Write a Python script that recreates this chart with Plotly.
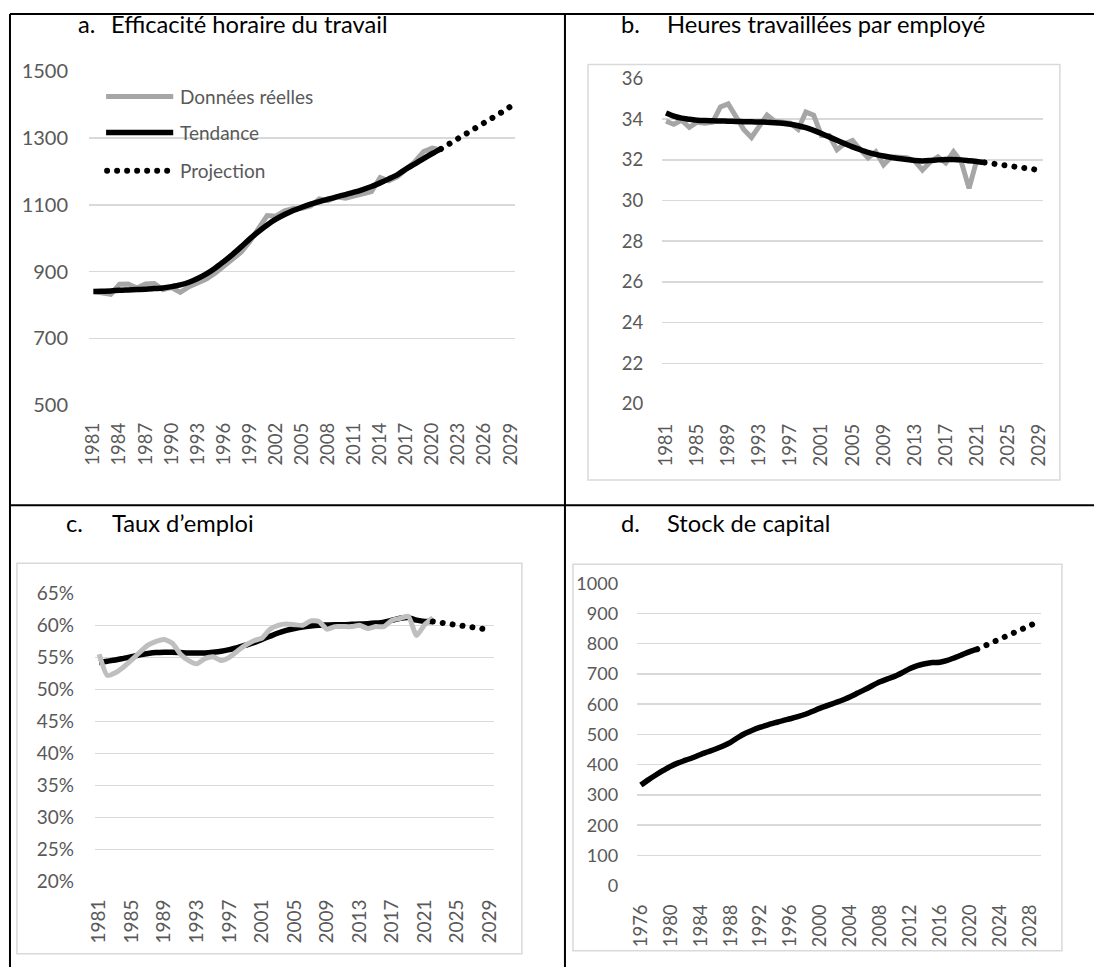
import plotly.graph_objects as go

W, H = 1101, 978
FONT = "Lato"
GRID = "#d9d9d9"
TICKC = "#595959"

# ---------------- data ----------------
years_a = list(range(1981, 2022))
actual_a = [840, 836, 832, 862, 863, 851, 863, 864, 846, 852, 838, 855, 866, 878, 895,
            915, 935, 958, 990, 1030, 1068, 1066, 1082, 1089, 1090, 1097, 1118, 1113,
            1124, 1120, 1127, 1131, 1140, 1182, 1172, 1185, 1208, 1230, 1260, 1270, 1265]
trend_a = [840, 841, 842, 844, 845, 846, 847, 849, 851, 855, 860, 868, 879, 893, 910,
           930, 951, 974, 998, 1020, 1040, 1057, 1071, 1083, 1093, 1102, 1110, 1117,
           1124, 1131, 1138, 1146, 1155, 1166, 1178, 1191, 1208, 1223, 1239, 1254, 1268]
proj_years_a = list(range(2021, 2030))
proj_a = [1268, 1283, 1298, 1313, 1329, 1345, 1361, 1378, 1395]

years_b = list(range(1981, 2022))
actual_b = [33.9, 33.75, 33.95, 33.6, 33.85, 33.8, 33.85, 34.6, 34.75, 34.1, 33.5, 33.1,
            33.6, 34.2, 33.9, 33.85, 33.8, 33.5, 34.35, 34.2, 33.2, 33.2, 32.5, 32.8,
            32.95, 32.5, 32.1, 32.4, 31.75, 32.15, 32.15, 32.1, 31.95, 31.5, 31.9, 32.15,
            31.85, 32.4, 31.9, 30.6, 32.0]
trend_years_b = list(range(1981, 2023))
trend_b = [34.3, 34.15, 34.05, 34.0, 33.95, 33.93, 33.92, 33.91, 33.9, 33.89, 33.88,
           33.87, 33.86, 33.85, 33.83, 33.8, 33.75, 33.68, 33.58, 33.45, 33.3, 33.13,
           32.96, 32.8, 32.64, 32.5, 32.37, 32.27, 32.19, 32.12, 32.07, 32.02, 31.97,
           31.95, 31.97, 32.0, 32.02, 32.02, 32.0, 31.96, 31.92, 31.87]
proj_years_b = list(range(2022, 2030))
proj_b = [31.87, 31.82, 31.77, 31.72, 31.66, 31.6, 31.55, 31.5]

years_c = list(range(1981, 2023))
actual_c = [55.5, 52.2, 52.6, 53.5, 54.6, 55.8, 56.9, 57.5, 57.8, 57.2, 55.5, 54.5, 54.0,
            54.8, 55.1, 54.5, 55.0, 56.0, 56.9, 57.6, 58.0, 59.4, 60.0, 60.2, 60.1, 60.0,
            60.7, 60.6, 59.4, 59.8, 59.8, 59.8, 60.0, 59.5, 59.8, 59.8, 60.8, 61.1, 61.4,
            58.4, 60.1, 61.2]
trend_c = [54.2, 54.4, 54.6, 54.85, 55.1, 55.4, 55.6, 55.75, 55.8, 55.8, 55.75, 55.7,
           55.7, 55.7, 55.8, 55.95, 56.2, 56.5, 56.9, 57.3, 57.8, 58.3, 58.8, 59.2, 59.5,
           59.75, 59.9, 60.0, 60.05, 60.1, 60.1, 60.15, 60.2, 60.25, 60.35, 60.5, 60.8,
           61.1, 61.2, 60.8, 60.6, 60.6]
proj_years_c = list(range(2022, 2030))
proj_c = [60.6, 60.4, 60.2, 60.0, 59.85, 59.7, 59.5, 59.3]

years_d = list(range(1976, 2022))
capital_d = [333, 350, 366, 381, 395, 406, 415, 424, 434, 443, 452, 462, 474, 490, 504,
             515, 524, 532, 539, 546, 552, 559, 567, 577, 587, 596, 605, 614, 625, 637,
             649, 662, 674, 684, 693, 705, 718, 728, 734, 738, 739, 745, 754, 764, 774, 782]
proj_years_d = list(range(2021, 2030))
proj_d = [782, 793, 805, 816, 827, 838, 849, 860, 871]

ticks_a = list(range(1981, 2030, 3))
ticks_bc = list(range(1981, 2030, 4))
ticks_d = list(range(1976, 2030, 4))

titles = [("a.", "Efficacité horaire du travail"),
          ("b.", "Heures travaillées par employé"),
          ("c.", "Taux d\u2019emploi"),
          ("d.", "Stock de capital")]
legend_names = ["Données réelles", "Tendance", "Projection"]

# observed capture mapping of the page -> picture (compensated here)
AX, SX, AY, SY = 8.1, 0.9845, 13.6, 0.974


def dx(xr):
    return min(max((xr - AX) / SX, 1), W - 1)


def dy(yr):
    return min(max((yr - AY) / SY, 1), H)


def fx(xr):
    return dx(xr) / W


def fy(yr):
    return 1 - dy(yr) / H


fig = go.Figure()

GRAY_A = "#a6a6a6"
GRAY_C = "#bfbfbf"
LW = 5.5
DOT = dict(color="black", width=6, dash="dot")

# panel a
fig.add_trace(go.Scatter(x=years_a, y=actual_a, mode="lines", line=dict(color=GRAY_A, width=5),
                         xaxis="x", yaxis="y", name=legend_names[0]))
fig.add_trace(go.Scatter(x=years_a, y=trend_a, mode="lines",
                         line=dict(color="black", width=LW, shape="spline", smoothing=0.8),
                         xaxis="x", yaxis="y", name=legend_names[1]))
fig.add_trace(go.Scatter(x=proj_years_a, y=proj_a, mode="lines", line=DOT,
                         xaxis="x", yaxis="y", name=legend_names[2]))
# panel b
fig.add_trace(go.Scatter(x=years_b, y=actual_b, mode="lines", line=dict(color=GRAY_A, width=5),
                         xaxis="x2", yaxis="y2"))
fig.add_trace(go.Scatter(x=trend_years_b, y=trend_b, mode="lines",
                         line=dict(color="black", width=LW, shape="spline", smoothing=0.8),
                         xaxis="x2", yaxis="y2"))
fig.add_trace(go.Scatter(x=proj_years_b, y=proj_b, mode="lines", line=DOT,
                         xaxis="x2", yaxis="y2"))
# panel c
fig.add_trace(go.Scatter(x=years_c, y=trend_c, mode="lines",
                         line=dict(color="black", width=LW, shape="spline", smoothing=0.8),
                         xaxis="x3", yaxis="y3"))
fig.add_trace(go.Scatter(x=years_c, y=actual_c, mode="lines",
                         line=dict(color=GRAY_C, width=5, shape="spline", smoothing=0.5),
                         xaxis="x3", yaxis="y3"))
fig.add_trace(go.Scatter(x=proj_years_c, y=proj_c, mode="lines", line=DOT,
                         xaxis="x3", yaxis="y3"))
# panel d
fig.add_trace(go.Scatter(x=years_d, y=capital_d, mode="lines",
                         line=dict(color="black", width=LW, shape="spline", smoothing=0.8),
                         xaxis="x4", yaxis="y4"))
fig.add_trace(go.Scatter(x=proj_years_d, y=proj_d, mode="lines", line=DOT,
                         xaxis="x4", yaxis="y4"))


def xax(dom, rng, ticks, size, standoff):
    return dict(domain=[fx(dom[0]), fx(dom[1])], range=rng, tickmode="array",
                tickvals=ticks, ticktext=[str(t) for t in ticks], tickangle=-90,
                showgrid=False, zeroline=False, showline=False, ticks="",
                tickfont=dict(family=FONT, size=size, color=TICKC),
                ticklabelstandoff=standoff, fixedrange=True)


def yax(dom, rng, dtick, size, standoff, suffix=""):
    return dict(domain=[fy(dom[1]), fy(dom[0])], range=rng, dtick=dtick, tick0=rng[0],
                showgrid=True, gridcolor=GRID, gridwidth=1.5, zeroline=False,
                showline=False, ticks="", ticksuffix=suffix,
                tickfont=dict(family=FONT, size=size, color=TICKC),
                ticklabelstandoff=standoff, fixedrange=True)


fig.update_layout(
    width=W, height=H, margin=dict(l=0, r=0, t=0, b=0),
    paper_bgcolor="white", plot_bgcolor="white", showlegend=False,
    xaxis=xax((88, 513), [1980.5, 2029.5], ticks_a, 18.5, 13),
    yaxis=yax((72, 405), [500, 1500], 200, 20, 20),
    xaxis2=xax((660, 1040), [1980.5, 2029.5], ticks_bc, 18.5, 15),
    yaxis2=yax((79, 404), [20, 36], 2, 18.5, 18),
    xaxis3=xax((94, 492), [1980.5, 2029.5], ticks_bc, 19, 13),
    yaxis3=yax((593, 881), [20, 65], 5, 19, 20, "%"),
    xaxis4=xax((635, 1038), [1975.5, 2029.5], ticks_d, 18.5, 14),
    yaxis4=yax((583, 885), [0, 1000], 100, 18, 18),
)
fig.layout.xaxis2.anchor = "y2"
fig.layout.yaxis2.anchor = "x2"
fig.layout.xaxis3.anchor = "y3"
fig.layout.yaxis3.anchor = "x3"
fig.layout.xaxis4.anchor = "y4"
fig.layout.yaxis4.anchor = "x4"

shapes = []
# table borders
for (x0, y0, x1, y1) in [(7, 5, 7, 978), (6, 6, 1101, 6), (563, 5, 563, 978), (6, 505, 1101, 505)]:
    shapes.append(dict(type="line", xref="paper", yref="paper", x0=fx(x0), y0=fy(y0),
                       x1=fx(x1), y1=fy(y1), line=dict(color="black", width=2)))
# chart area boxes (b, c, d)
for (x0, y0, x1, y1) in [(586, 65, 1057, 480), (16, 563, 520, 953), (571, 564, 1059, 950)]:
    shapes.append(dict(type="rect", xref="paper", yref="paper", x0=fx(x0), y0=fy(y0),
                       x1=fx(x1), y1=fy(y1), line=dict(color=GRID, width=1.5),
                       fillcolor="rgba(0,0,0,0)", layer="below"))
# legend samples (panel a)
shapes.append(dict(type="line", xref="paper", yref="paper", x0=fx(105), x1=fx(172),
                   y0=fy(97), y1=fy(97), line=dict(color=GRAY_A, width=5)))
shapes.append(dict(type="line", xref="paper", yref="paper", x0=fx(105), x1=fx(172),
                   y0=fy(133), y1=fy(133), line=dict(color="black", width=LW)))
shapes.append(dict(type="line", xref="paper", yref="paper", x0=fx(106), x1=fx(170),
                   y0=fy(171), y1=fy(171), line=DOT))

ann = []
for (name, yy) in zip(legend_names, [97, 133, 171]):
    ann.append(dict(text=name, xref="paper", yref="paper", x=fx(177), y=fy(yy),
                    xanchor="left", yanchor="middle", showarrow=False,
                    font=dict(family=FONT, size=19, color=TICKC)))
title_pos = [(75, 108, 25), (617, 663, 25), (63, 109, 523), (617, 663, 523)]
for (lbl, txt), (xl, xt, yy) in zip(titles, title_pos):
    ann.append(dict(text=lbl, xref="paper", yref="paper", x=fx(xl), y=fy(yy),
                    xanchor="left", yanchor="middle", showarrow=False,
                    font=dict(family=FONT, size=23.7, color="black")))
    ann.append(dict(text=txt, xref="paper", yref="paper", x=fx(xt), y=fy(yy),
                    xanchor="left", yanchor="middle", showarrow=False,
                    font=dict(family=FONT, size=23.7, color="black")))

fig.update_layout(shapes=shapes, annotations=ann)

# round "dot" dash style (as in the original) for dotted projection lines
POST = """
document.body.style.margin='0px';
document.documentElement.style.overflow='hidden';
document.querySelectorAll('path').forEach(function(p){
  var d = p.style.strokeDasharray;
  if (d && d !== 'none' && d.indexOf('6px') !== -1) {
    p.style.strokeLinecap = 'round';
    p.style.strokeDasharray = '0.01px, 10px';
  }
});
"""
fig.write_html("out.html", config={"displayModeBar": False, "staticPlot": True},
               post_script=POST)
